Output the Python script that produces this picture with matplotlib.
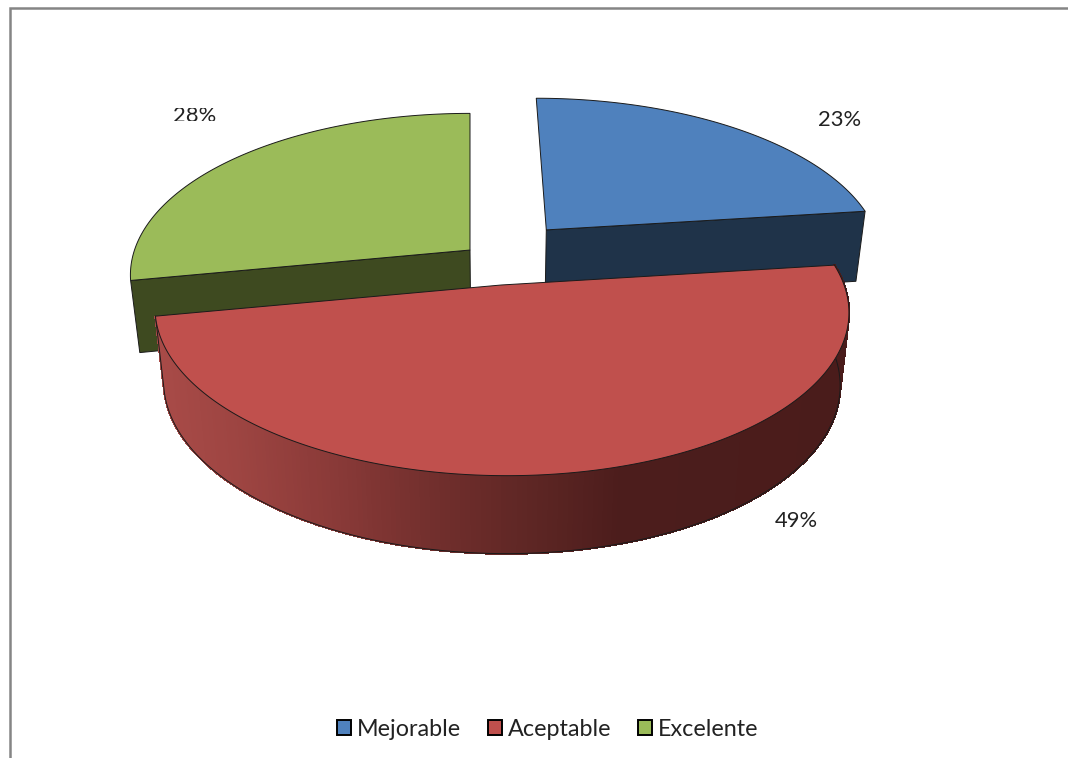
import numpy as np
import matplotlib
matplotlib.use("Agg")
import matplotlib.pyplot as plt
from matplotlib.patches import Polygon, Patch, Rectangle
from matplotlib.colors import to_rgb

categories = ["Mejorable", "Aceptable", "Excelente"]
values = [23, 49, 28]
top_colors = ["#4F81BD", "#C0504D", "#9BBB59"]
cut_colors = ["#1F3349", "#4A1C1B", "#3E4A20"]

# plan-view explosion offset of every slice (in pie radii) and radial scale
offsets = {"Mejorable": (0.232, 0.36), "Aceptable": (0.09, 0.0), "Excelente": (0.0, 0.224)}
radial = {"Mejorable": (1.0, 1.045), "Aceptable": (0.988, 1.0), "Excelente": (1.0, 1.045)}
XV, YC, R, A, K = 470.0, 285.0, 347.0, 161.5, 0.153
SHRINK = 0.975


def project(u, v):
    w = 1 + K * v
    return XV + R * u / w, YC - A * v / w


def lower(x, y):
    xb = 498 + SHRINK * (x - 498)
    yb = y + 70 + 0.03 * (y - 210)
    return xb, yb


fig = plt.figure(figsize=(10.68, 7.58), dpi=100)
ax = fig.add_axes([0, 0, 1, 1])
ax.set_xlim(0, 1068)
ax.set_ylim(758, 0)
ax.axis("off")

# chart frame
ax.plot([10, 10, 1068], [758, 8, 8], color="#858585", lw=1.8, solid_joinstyle="miter", zorder=1)

# slice angles (clockwise from twelve o'clock)
total = sum(values)
start = 90.0
spans = {}
for c, val in zip(categories, values):
    spans[c] = (start, start - 360.0 * val / total)
    start = spans[c][1]


def outline(c, n=240):
    a0, a1 = np.radians(spans[c])
    t = np.linspace(a0, a1, n)
    u0, v0 = offsets[c]
    ru, rv = radial[c]
    return project(u0 + ru * np.cos(t), v0 + rv * np.sin(t)), project(u0, v0)


order = ["Mejorable", "Excelente", "Aceptable"]
lw = 0.7
edge = "#1a1a1a"
for z, c in enumerate(order):
    i = categories.index(c)
    (ax_x, ax_y), (cx, cy) = outline(c)
    base = 10 + 10 * z
    if c in ("Mejorable", "Excelente"):
        # flat cut face between the apex and the near end of the slice
        k = -1 if c == "Mejorable" else 0
        x = np.array([cx, ax_x[k]])
        y = np.array([cy, ax_y[k]])
        bx, by = lower(x, y)
        ax.add_patch(Polygon(np.c_[np.r_[x, bx[::-1]], np.r_[y, by[::-1]]], fc=cut_colors[i], ec=edge, lw=lw, zorder=base))
    else:
        # curved outer wall, light on the left and dark on the right
        stops_x = [150, 230, 330, 430, 530, 620, 860]
        stops_c = ["#A94B48", "#9E4542", "#8A3A38", "#722F2D", "#5E2624", "#4C1D1C", "#4A1C1B"]
        rgb = np.array([to_rgb(s) for s in stops_c])
        bx, by = lower(ax_x, ax_y)
        for k in range(len(ax_x) - 1):
            xm = 0.5 * (ax_x[k] + ax_x[k + 1])
            col = [np.interp(xm, stops_x, rgb[:, j]) for j in range(3)]
            quad = [(ax_x[k], ax_y[k]), (ax_x[k + 1], ax_y[k + 1]), (bx[k + 1], by[k + 1]), (bx[k], by[k])]
            ax.add_patch(Polygon(quad, fc=col, ec=col, lw=1.0, antialiased=False, zorder=base))
        ax.plot(np.r_[ax_x[-1], bx[::-1], ax_x[0]], np.r_[ax_y[-1], by[::-1], ax_y[0]], color=edge, lw=lw, zorder=base + 1)
    ax.add_patch(Polygon(np.c_[np.r_[cx, ax_x], np.r_[cy, ax_y]], closed=True, fc=top_colors[i], ec=edge, lw=lw, zorder=base + 2))

# percentage labels: the 28% label and the 49% label are cut in the source
label_font = dict(family="Lato", fontsize=15.8, color="#222222", ha="center", va="center", zorder=60)
label_pos = {"Mejorable": (840, 120), "Aceptable": (796, 521), "Excelente": (194.5, 116)}
label_clip = {"Excelente": (100, 108, 200, 13), "Aceptable": (700, 512, 200, 20)}
for c, val in zip(categories, values):
    t = ax.text(*label_pos[c], f"{val}%", **label_font)
    if c in label_clip:
        x0, y0, w, h = label_clip[c]
        t.set_clip_path(Rectangle((x0, y0), w, h, transform=ax.transData))
        t.set_clip_on(True)

handles = [Patch(fc=col, ec="black", lw=1.4, label=c) for c, col in zip(categories, top_colors)]
ax.legend(handles=handles, loc="center", bbox_to_anchor=(548, 729), bbox_transform=ax.transData,
          ncol=3, frameon=False, prop=dict(family="Lato", size=16.8), labelcolor="#222222",
          handlelength=0.58, handleheight=0.58, handletextpad=0.27, columnspacing=1.15, borderpad=0)

fig.savefig("out.png", dpi=100, facecolor="white")
